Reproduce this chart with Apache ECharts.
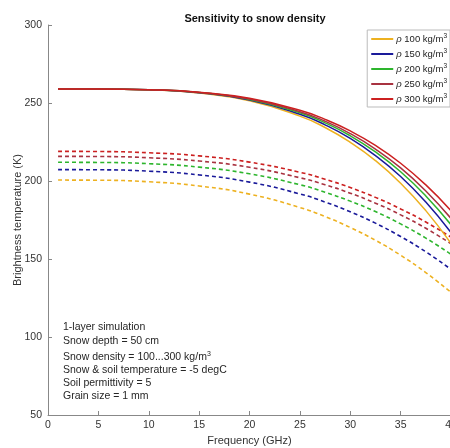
<!DOCTYPE html>
<html>
<head>
<meta charset="utf-8">
<script src="https://cdn.jsdelivr.net/npm/echarts@6/dist/echarts.min.js"></script>
<style>html,body{margin:0;padding:0;background:#fff}#c{width:450px;height:448px}</style>
</head>
<body>
<div id="c"></div>
<script>
var freqs = [1, 5, 10, 15, 20, 25, 27.5, 30, 32.5, 35, 37.5, 40];
var densities = ['100', '150', '200', '250', '300'];
var colors = ['#EDB120', '#1A1A9A', '#2DB52D', '#A83240', '#CC2020'];
// solid curves
var solid100 = [259, 259, 258.4, 256.4, 251.4, 241.6, 234.3, 224.8, 213.1, 198.6, 181.0, 160];
var solid150 = [259, 259, 258.5, 256.6, 251.9, 242.8, 236.0, 227.3, 216.3, 202.9, 186.5, 167];
var solid200 = [259, 259, 258.5, 256.7, 252.3, 243.7, 237.3, 229.0, 218.6, 205.9, 190.4, 172];
var solid250 = [259, 259, 258.5, 256.8, 252.6, 244.4, 238.3, 230.4, 220.5, 208.4, 193.6, 176];
var solid300 = [259, 259, 258.5, 256.9, 253.0, 245.3, 239.5, 232.1, 222.8, 211.4, 197.5, 181];
// dashed curves
var dash100 = [200.6, 200.5, 199.5, 196.8, 191.6, 183.0, 177.2, 170.2, 162.0, 152.4, 141.3, 128.6];
var dash150 = [207.3, 207.2, 206.3, 203.9, 199.3, 191.7, 186.5, 180.3, 173.0, 164.4, 154.6, 143.3];
var dash200 = [212.0, 211.9, 211.1, 208.9, 204.6, 197.6, 192.8, 187.1, 180.4, 172.5, 163.4, 153.0];
var dash250 = [215.8, 215.7, 214.9, 212.8, 208.8, 202.1, 197.6, 192.2, 185.8, 178.3, 169.7, 159.8];
var dash300 = [219.0, 218.9, 218.1, 216.1, 212.1, 205.6, 201.1, 195.8, 189.5, 182.1, 173.7, 164.0];
var annotation = ['1-layer simulation', 'Snow depth = 50 cm', 'Snow density = 100...300 kg/m{s|3}', 'Snow & soil temperature = -5 degC', 'Soil permittivity = 5', 'Grain size = 1 mm'];

var solids = [solid100, solid150, solid200, solid250, solid300];
var dashes = [dash100, dash150, dash200, dash250, dash300];
function pairs(v) { return freqs.map(function (f, i) { return [f, v[i]]; }); }

var series = [];
densities.forEach(function (d, i) {
  series.push({
    name: d, type: 'line', data: pairs(dashes[i]), smooth: true, symbol: 'none',
    lineStyle: { color: colors[i], width: 1.6, type: [4, 3] }, itemStyle: { color: colors[i] }, z: 2
  });
});
densities.forEach(function (d, i) {
  series.push({
    name: 'rho' + d, type: 'line', data: pairs(solids[i]), smooth: true, symbol: 'none',
    lineStyle: { color: colors[i], width: 1.5 }, itemStyle: { color: colors[i] }, z: 3
  });
});

var annotY = [329, 343, 358, 372, 385, 398];
var graphics = annotation.map(function (t, i) {
  return {
    type: 'text', left: 63, top: annotY[i] - 7,
    style: { text: t, font: '10.5px Arial, "Liberation Sans", sans-serif', fill: '#262626',
      rich: { s: { fontSize: 7, verticalAlign: 'top', padding: [0, 0, 6, 0], fill: '#262626' } } }
  };
});

var chart = echarts.init(document.getElementById('c'));
chart.setOption({
  animation: false,
  backgroundColor: '#fff',
  title: {
    text: 'Sensitivity to snow density', left: 250, textAlign: 'center', top: 8,
    textStyle: { fontSize: 11, fontWeight: 'bold', color: '#111', fontFamily: 'Arial, "Liberation Sans", sans-serif' }
  },
  grid: { left: 48, right: -1, top: 25, bottom: 33, containLabel: false, outerBoundsMode: 'none' },
  legend: {
    data: densities.map(function (d) { return 'rho' + d; }),
    orient: 'vertical', right: 0, top: 30,
    icon: 'rect', itemWidth: 22, itemHeight: 2, itemGap: 4,
    backgroundColor: '#fff', borderColor: '#bbb', borderWidth: 1, borderRadius: 0,
    padding: [3, 3, 3, 4],
    formatter: function (n) { return '{i|ρ} ' + n.slice(3) + ' kg/m{s|3}'; },
    textStyle: {
      fontSize: 9.5, color: '#222', fontFamily: 'Arial, "Liberation Sans", sans-serif', padding: [0, 0, 0, -2],
      rich: { i: { fontStyle: 'italic', fontSize: 9.5 }, s: { fontSize: 6.5, verticalAlign: 'top', padding: [0, 0, 5, 0] } }
    }
  },
  xAxis: {
    type: 'value', min: 0, max: 40, interval: 5,
    name: 'Frequency (GHz)', nameLocation: 'middle', nameGap: 20, nameMoveOverlap: false,
    nameTextStyle: { fontSize: 11, color: '#333', fontFamily: 'Arial, "Liberation Sans", sans-serif' },
    axisLine: { lineStyle: { color: '#888' } },
    axisTick: { inside: true, length: 4, lineStyle: { color: '#888' } },
    axisLabel: { fontSize: 10.5, color: '#333', margin: 5, fontFamily: 'Arial, "Liberation Sans", sans-serif' },
    splitLine: { show: false }
  },
  yAxis: {
    type: 'value', min: 50, max: 300, interval: 50,
    name: 'Brightness temperature (K)', nameLocation: 'middle', nameGap: 25, nameMoveOverlap: false,
    nameTextStyle: { fontSize: 11, color: '#333', fontFamily: 'Arial, "Liberation Sans", sans-serif' },
    axisLine: { show: true, lineStyle: { color: '#888' } },
    axisTick: { show: true, inside: true, length: 4, lineStyle: { color: '#888' } },
    axisLabel: { fontSize: 10.5, color: '#333', margin: 6, fontFamily: 'Arial, "Liberation Sans", sans-serif' },
    splitLine: { show: false }
  },
  graphic: graphics,
  series: series
});
</script>
</body>
</html>
